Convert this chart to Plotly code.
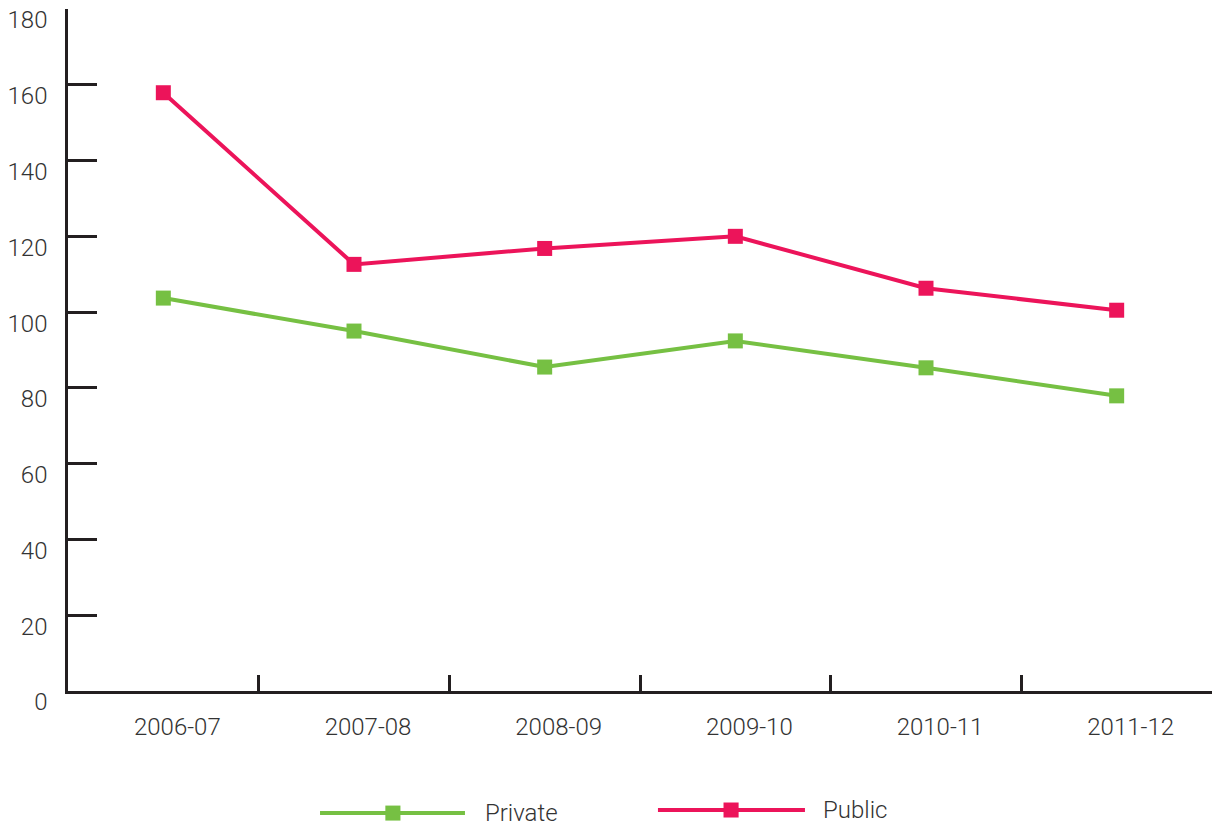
import plotly.graph_objects as go

years = ["2006-07", "2007-08", "2008-09", "2009-10", "2010-11", "2011-12"]
private = [103.7, 95.0, 85.5, 92.4, 85.3, 77.9]
public = [157.9, 112.6, 116.8, 120.0, 106.3, 100.5]
y_ticks = [0, 20, 40, 60, 80, 100, 120, 140, 160, 180]

GREEN = "#76c043"
PINK = "#ec145a"
AXIS = "#231f20"
FONT = "Roboto, sans-serif"
TXT = "#333333"

fig = go.Figure()
fig.add_trace(go.Scatter(x=years, y=private, name="Private", mode="lines+markers",
                         line=dict(color=GREEN, width=4),
                         marker=dict(symbol="square", size=15, color=GREEN)))
fig.add_trace(go.Scatter(x=years, y=public, name="Public", mode="lines+markers",
                         line=dict(color=PINK, width=4),
                         marker=dict(symbol="square", size=15, color=PINK)))

fig.update_layout(
    width=1215, height=827,
    margin=dict(l=68, r=3, t=9, b=136),
    paper_bgcolor="white", plot_bgcolor="white",
    showlegend=False,
    font=dict(family=FONT, size=24, color=TXT, weight=300),
    xaxis=dict(type="category", range=[-0.5, 5.5], tickson="boundaries",
               ticks="inside", ticklen=16, tickwidth=2.5, tickcolor=AXIS,
               showline=True, linecolor=AXIS, linewidth=2.5, showgrid=False,
               ticklabelstandoff=12, ticklabelshift=14,
               tickfont=dict(size=24, weight=300)),
    yaxis=dict(range=[0, 180], tickvals=y_ticks, ticks="inside", ticklen=29,
               tickwidth=2.5, tickcolor=AXIS, showline=True, linecolor=AXIS,
               linewidth=2.5, showgrid=False, zeroline=False,
               ticklabelstandoff=13, ticklabelshift=11,
               tickfont=dict(size=24, weight=300)),
)

# custom legend with long line samples
legend_items = [("Private", GREEN, 0.2203, 0.347, 0.284, 0.3627, -0.179),
                ("Public", PINK, 0.5157, 0.6442, 0.5796, 0.6582, -0.1745)]
for name, col, x0, x1, xm, xt, yy in legend_items:
    fig.add_shape(type="line", xref="paper", yref="paper", x0=x0, x1=x1, y0=yy, y1=yy,
                  line=dict(color=col, width=4))
    fig.add_shape(type="rect", xref="paper", yref="paper", x0=xm - 0.0066, x1=xm + 0.0066,
                  y0=yy - 0.011, y1=yy + 0.011, line=dict(width=0), fillcolor=col)
    fig.add_annotation(text=name, xref="paper", yref="paper", x=xt, y=yy, xanchor="left",
                       yanchor="middle", showarrow=False,
                       font=dict(size=24, color=TXT, weight=300))

fig.write_html("out.html", post_script="document.body.style.margin='0';",
               config={"displayModeBar": False})
